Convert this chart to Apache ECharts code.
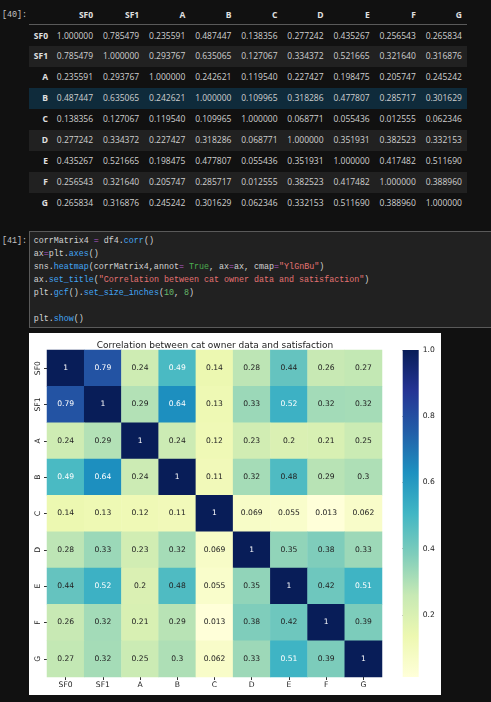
<!DOCTYPE html>
<html>
<head>
<meta charset="utf-8">
<script src="https://cdn.jsdelivr.net/npm/echarts@6/dist/echarts.min.js"></script>
<style>
  html, body { margin:0; padding:0; background:#111111; width:491px; height:702px; overflow:hidden; }
  .abs { position:absolute; }
  .prompt { font-family:"Liberation Mono", monospace; font-size:8.4px; color:#c4c4c4; }
  .cell { position:absolute; font-family:"Open Sans", sans-serif; font-size:8.5px; color:#d0d0d0; text-align:right; white-space:nowrap; }
  .bold { font-weight:bold; color:#e0e0e0; }
  #code { position:absolute; left:29px; top:231px; width:470px; height:97px; background:#212121; border:1px solid #5a5a5a; box-sizing:border-box; }
  #codetext { position:absolute; left:33.7px; top:235.3px; font-family:"Liberation Mono", monospace; font-size:8.35px; line-height:12.9px; color:#d4d4d4; white-space:pre; }
  .op { color:#b55cd0; } .pr { color:#42a5f5; } .kw { color:#4caf50; } .st { color:#e57373; } .nu { color:#66bb6a; }
  #chart { position:absolute; left:29px; top:333px; width:412px; height:362px; background:#ffffff; }
</style>
</head>
<body>
<div id="table"></div>
<div id="code"></div>
<div id="codetext"><span>corrMatrix4 </span><span class="op">=</span> df4.<span class="pr">corr</span>()
ax<span class="op">=</span>plt.<span class="pr">axes</span>()
sns.<span class="pr">heatmap</span>(corrMatrix4,annot<span class="op">=</span> <span class="kw">True</span>, ax<span class="op">=</span>ax, cmap<span class="op">=</span><span class="st">"YlGnBu"</span>)
ax.<span class="pr">set_title</span>(<span class="st">"Correlation between cat owner data and satisfaction"</span>)
plt.<span class="pr">gcf</span>().<span class="pr">set_size_inches</span>(<span class="nu">10</span>, <span class="nu">8</span>)

plt.<span class="pr">show</span>()</div>
<div class="abs prompt" style="left:2px;top:9.5px;">[40]:</div>
<div class="abs prompt" style="left:2px;top:236px;">[41]:</div>
<div id="chart"></div>
<script>
// ---- data ----
var categories = ["SF0", "SF1", "A", "B", "C", "D", "E", "F", "G"];
var rowSF0 = [1.000000, 0.785479, 0.235591, 0.487447, 0.138356, 0.277242, 0.435267, 0.256543, 0.265834];
var rowSF1 = [0.785479, 1.000000, 0.293767, 0.635065, 0.127067, 0.334372, 0.521665, 0.321640, 0.316876];
var rowA   = [0.235591, 0.293767, 1.000000, 0.242621, 0.119540, 0.227427, 0.198475, 0.205747, 0.245242];
var rowB   = [0.487447, 0.635065, 0.242621, 1.000000, 0.109965, 0.318286, 0.477807, 0.285717, 0.301629];
var rowC   = [0.138356, 0.127067, 0.119540, 0.109965, 1.000000, 0.068771, 0.055436, 0.012555, 0.062346];
var rowD   = [0.277242, 0.334372, 0.227427, 0.318286, 0.068771, 1.000000, 0.351931, 0.382523, 0.332153];
var rowE   = [0.435267, 0.521665, 0.198475, 0.477807, 0.055436, 0.351931, 1.000000, 0.417482, 0.511690];
var rowF   = [0.256543, 0.321640, 0.205747, 0.285717, 0.012555, 0.382523, 0.417482, 1.000000, 0.388960];
var rowG   = [0.265834, 0.316876, 0.245242, 0.301629, 0.062346, 0.332153, 0.511690, 0.388960, 1.000000];
var colorbarTicks = [0.2, 0.4, 0.6, 0.8, 1.0];
var ylgnbu = ["#ffffd9", "#edf8b1", "#c7e9b4", "#7fcdbb", "#41b6c4", "#1d91c0", "#225ea8", "#253494", "#081d58"];

var matrix = [rowSF0, rowSF1, rowA, rowB, rowC, rowD, rowE, rowF, rowG];

// ---- HTML dataframe table ----
(function () {
  var t = document.getElementById('table');
  var html = '';
  var idxRight = 48, colW = 46.1, firstRight = 93.1;
  for (var j = 0; j < categories.length; j++) {
    var r = firstRight + j * colW;
    html += '<div class="cell bold" style="left:' + (r - 44) + 'px;width:44px;top:9px;">' + categories[j] + '</div>';
  }
  html += '<div class="abs" style="left:29px;top:24px;width:438px;height:1px;background:#5a5a5a;"></div>';
  var rowH = 20.95, top0 = 25;
  for (var i = 0; i < matrix.length; i++) {
    var top = top0 + i * rowH;
    var bg = null;
    if (i === 3) bg = '#0f2b3b';
    else if (i % 2 === 1) bg = '#212121';
    if (bg) html += '<div class="abs" style="left:29px;top:' + top + 'px;width:438px;height:' + rowH + 'px;background:' + bg + ';"></div>';
    var ty = top + 4.5;
    html += '<div class="cell bold" style="left:' + (idxRight - 20) + 'px;width:20px;top:' + ty + 'px;">' + categories[i] + '</div>';
    for (var j = 0; j < matrix[i].length; j++) {
      var r = firstRight + j * colW;
      html += '<div class="cell" style="left:' + (r - 44) + 'px;width:44px;top:' + ty + 'px;">' + matrix[i][j].toFixed(6) + '</div>';
    }
  }
  t.innerHTML = html;
})();

// ---- heatmap ----
var vmin = Infinity, vmax = -Infinity;
matrix.forEach(function (row) { row.forEach(function (v) { vmin = Math.min(vmin, v); vmax = Math.max(vmax, v); }); });

function fmt2g(v) { return String(Number(v.toPrecision(2))); }

var heatData = [];
for (var i = 0; i < matrix.length; i++) {
  for (var j = 0; j < matrix[i].length; j++) {
    var v = matrix[i][j];
    heatData.push({ value: [j, i, v], label: { color: v > 0.485 ? '#ffffff' : '#222222' } });
  }
}

var stops = ylgnbu.map(function (c, k) { return { offset: k / (ylgnbu.length - 1), color: c }; });

var chart = echarts.init(document.getElementById('chart'), null, { renderer: 'canvas' });
var font = 'DejaVu Sans';
chart.setOption({
  backgroundColor: '#ffffff',
  animation: false,
  title: {
    text: 'Correlation between cat owner data and satisfaction',
    left: 181, textAlign: 'center', top: 3,
    textStyle: { fontFamily: font, fontSize: 9, fontWeight: 'normal', color: '#222' }
  },
  grid: [
    { left: 18, top: 17, width: 335, height: 327 },
    { left: 373.7, top: 17, width: 16, height: 327 }
  ],
  xAxis: [
    { type: 'category', gridIndex: 0, data: categories, position: 'bottom',
      axisLine: { show: false }, splitLine: { show: false },
      axisTick: { show: true, alignWithLabel: true, length: 3, lineStyle: { color: '#333' } },
      axisLabel: { fontFamily: font, fontSize: 7.6, color: '#222', margin: 4 } },
    { type: 'value', gridIndex: 1, min: 0, max: 1, show: false }
  ],
  yAxis: [
    { type: 'category', gridIndex: 0, data: categories, inverse: true,
      axisLine: { show: false }, splitLine: { show: false },
      axisTick: { show: true, alignWithLabel: true, length: 3, lineStyle: { color: '#333' } },
      axisLabel: { fontFamily: font, fontSize: 7.6, color: '#222', rotate: 90, margin: 5 } },
    { type: 'value', gridIndex: 1, min: vmin, max: vmax, position: 'right',
      axisLine: { show: false }, splitLine: { show: false },
      axisTick: { show: true, length: 3, lineStyle: { color: '#333' }, customValues: colorbarTicks },
      axisLabel: { fontFamily: font, fontSize: 7.6, color: '#222', margin: 4, customValues: colorbarTicks,
        formatter: function (v) { return v.toFixed(1); } } }
  ],
  visualMap: {
    show: false, type: 'continuous', min: vmin, max: vmax, seriesIndex: 0, dimension: 2,
    inRange: { color: ylgnbu }
  },
  series: [
    { type: 'heatmap', xAxisIndex: 0, yAxisIndex: 0, data: heatData,
      label: { show: true, fontFamily: font, fontSize: 7.6,
        formatter: function (p) { return fmt2g(p.value[2]); } },
      itemStyle: { borderWidth: 0 },
      emphasis: { disabled: true } },
    { type: 'custom', xAxisIndex: 1, yAxisIndex: 1, data: [[0, vmin, vmax]], silent: true,
      renderItem: function (params, api) {
        var p0 = api.coord([0, api.value(2)]);
        var p1 = api.coord([1, api.value(1)]);
        return { type: 'rect', shape: { x: p0[0], y: p0[1], width: p1[0] - p0[0], height: p1[1] - p0[1] },
          style: { fill: new echarts.graphic.LinearGradient(0, 1, 0, 0, stops) } };
      } }
  ]
});
</script>
</body>
</html>
